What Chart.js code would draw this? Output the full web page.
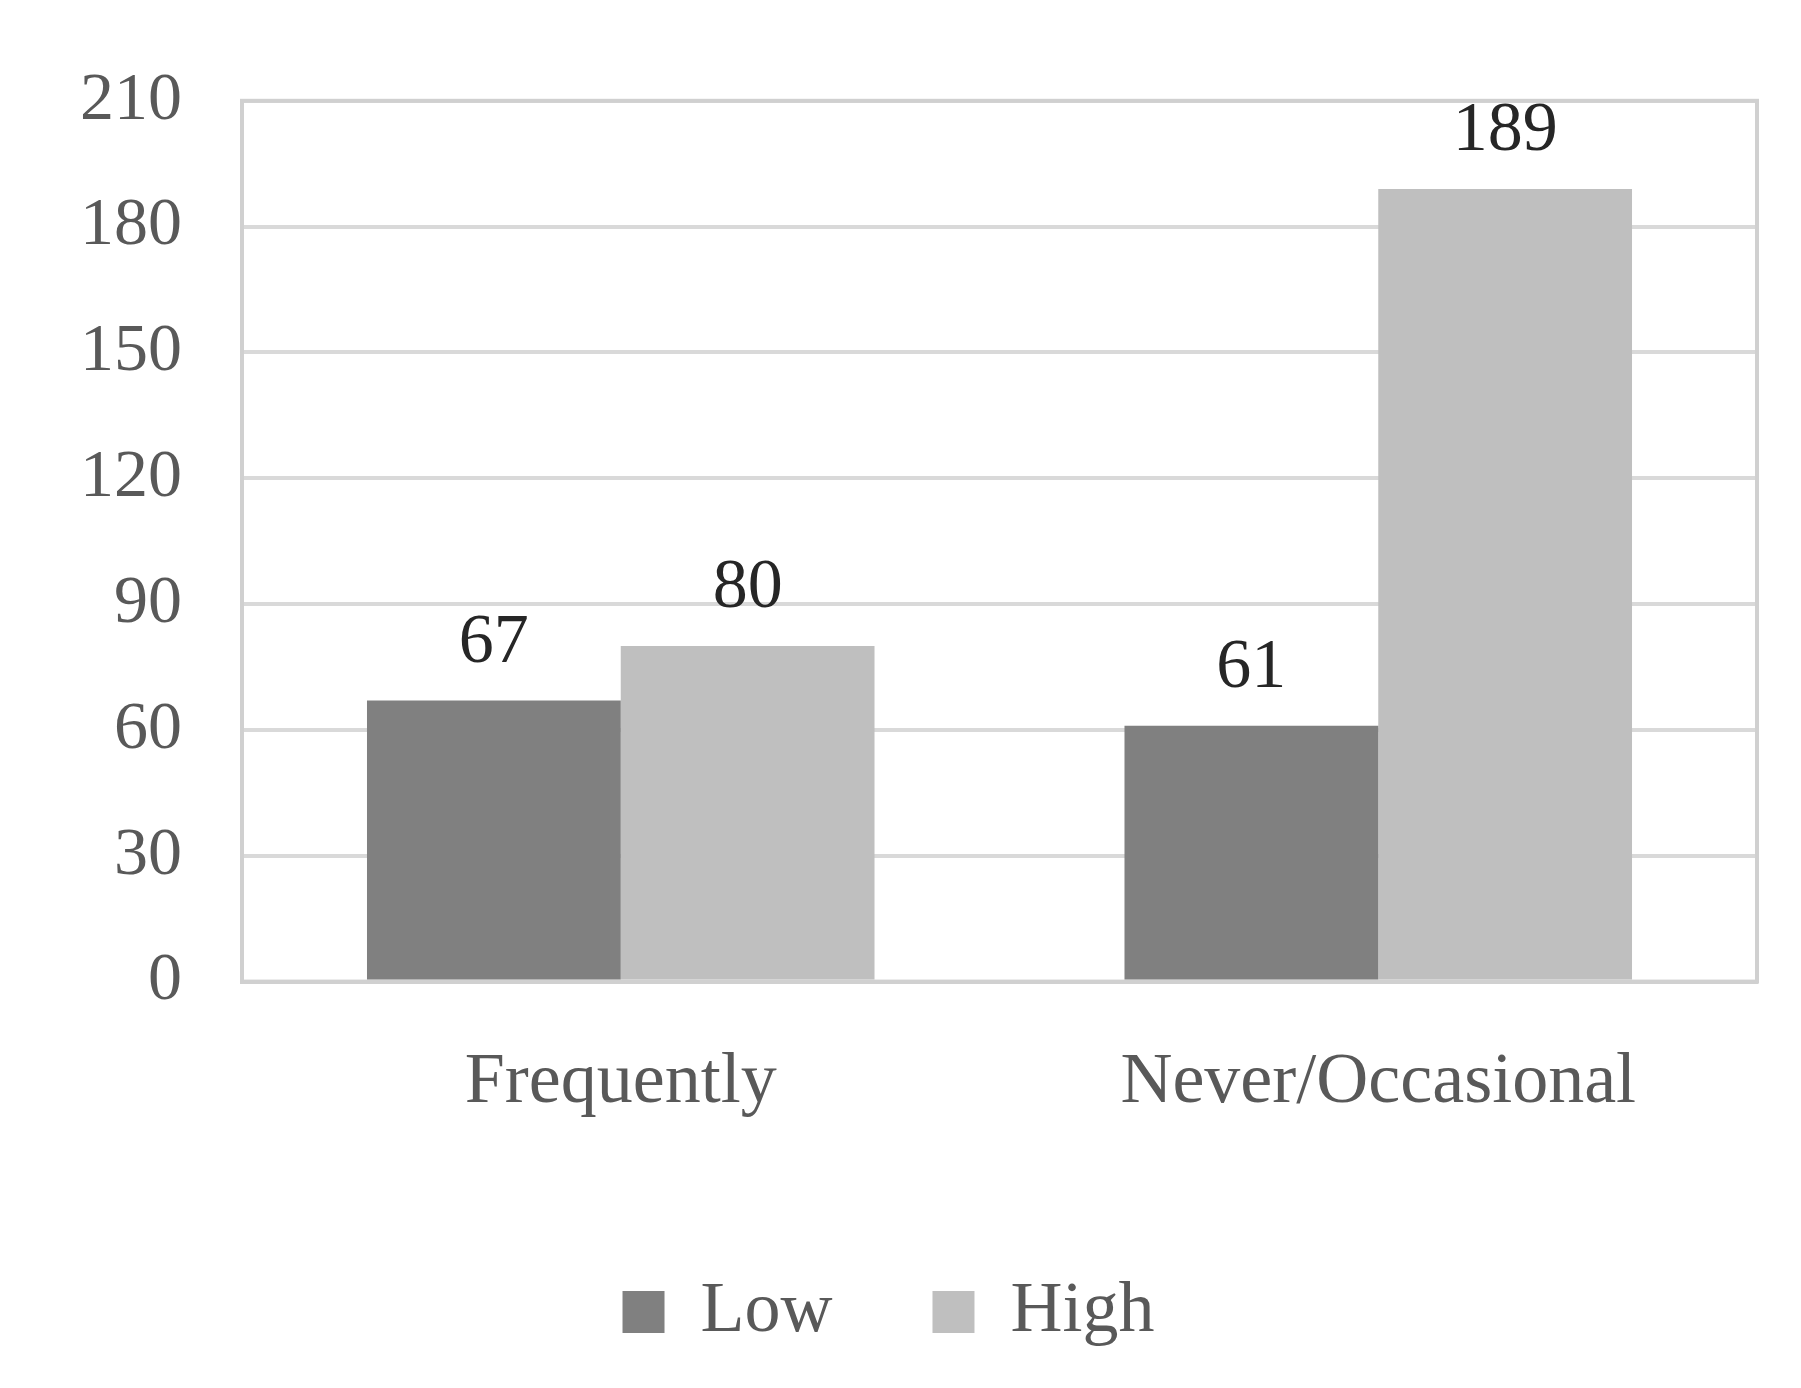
<!DOCTYPE html>
<html><head><meta charset="utf-8">
<script src="https://cdn.jsdelivr.net/npm/chart.js@4/dist/chart.umd.min.js"></script>
<style>html,body{margin:0;background:#fff}#w{width:1801px;height:1388px}</style>
</head><body><div id="w"><canvas id="c"></canvas></div>
<script>
const categories = ["Frequently", "Never/Occasional"];
const lowValues = [67, 61];
const highValues = [80, 189];
const yTicks = [0, 30, 60, 90, 120, 150, 180, 210];
const FONT = "'Liberation Serif', 'Times New Roman', serif";
const TXT = "#595959";

const labelPlugin = {
  id: 'labels',
  afterDatasetsDraw(chart) {
    const ctx = chart.ctx;
    ctx.save();
    ctx.font = "70px " + FONT;
    ctx.fillStyle = "#262626";
    ctx.textAlign = "center";
    ctx.textBaseline = "bottom";
    chart.data.datasets.forEach((ds, i) => {
      chart.getDatasetMeta(i).data.forEach((bar, j) => {
        ctx.fillText(ds.data[j], bar.x, bar.y - 22);
      });
    });
    ctx.restore();
  }
};
const framePlugin = {
  id: 'frame',
  beforeDatasetsDraw(chart) {
    const a = chart.chartArea, ctx = chart.ctx;
    ctx.save();
    ctx.strokeStyle = "#d0d0d0";
    ctx.lineWidth = 4;
    ctx.strokeRect(a.left, a.top, a.right - a.left, a.bottom - a.top);
    ctx.restore();
  }
};

new Chart(document.getElementById('c'), {
  type: 'bar',
  data: {
    labels: categories,
    datasets: [
      { label: 'Low', data: lowValues, backgroundColor: '#808080' },
      { label: 'High', data: highValues, backgroundColor: '#bfbfbf' }
    ]
  },
  options: {
    responsive: true, maintainAspectRatio: false, animation: false,
    devicePixelRatio: 1,
    layout: { padding: { left: 20, right: 44, top: 60, bottom: 30 } },
    datasets: { bar: { categoryPercentage: 0.67, barPercentage: 1 } },
    scales: {
      y: {
        min: 0, max: 210,
        afterBuildTicks: s => { s.ticks = yTicks.map(v => ({ value: v })); },
        ticks: { font: { size: 68, family: FONT }, color: TXT, padding: 60 },
        grid: { color: '#d9d9d9', lineWidth: 4, drawTicks: false },
        border: { display: false }
      },
      x: {
        ticks: { font: { size: 72, family: FONT }, color: TXT, padding: 50 },
        grid: { display: false },
        border: { color: '#d0d0d0', width: 4 }
      }
    },
    plugins: {
      legend: {
        position: 'bottom',
        labels: { font: { size: 72, family: FONT }, color: TXT, boxWidth: 42, boxHeight: 42, padding: 100 }
      },
      tooltip: { enabled: false }
    }
  },
  plugins: [framePlugin, labelPlugin]
});
</script></body></html>
